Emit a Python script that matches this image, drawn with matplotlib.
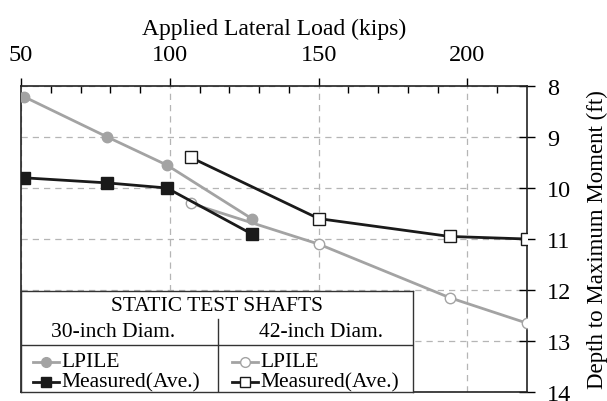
import numpy as np
import matplotlib.pyplot as plt
from matplotlib.lines import Line2D

plt.rcParams['font.family'] = ['Liberation Serif', 'DejaVu Serif']

# 30-inch shafts
load_30 = [51, 79, 99, 127.5]
lpile_30 = [8.21, 9.0, 9.55, 10.6]
meas_30 = [9.8, 9.9, 10.0, 10.9]

# 42-inch shafts
load_42 = [107, 150, 194, 220]
lpile_42 = [10.3, 11.1, 12.15, 12.65]
meas_42 = [9.4, 10.6, 10.95, 11.0]

gray = '#a3a3a3'
black = '#1a1a1a'

W, H = 607, 402
fig = plt.figure(figsize=(W / 100, H / 100), dpi=100)
ax = fig.add_axes([21 / W, (H - 393) / H, (527 - 21) / W, (393 - 87) / H])

ax.plot(load_30, lpile_30, color=gray, lw=2, marker='o', ms=7.5, mfc=gray, mec=gray, zorder=3)
ax.plot(load_30, meas_30, color=black, lw=2, marker='s', ms=8, mfc=black, mec=black, zorder=4)
ax.plot(load_42, lpile_42, color=gray, lw=2, marker='o', ms=7.5, mfc='white', mec=gray, mew=1, zorder=3)
ax.plot(load_42, meas_42, color=black, lw=2, marker='s', ms=8, mfc='white', mec=black, mew=1, zorder=4)

ax.set_xlim(50, 220)
ax.set_ylim(14, 8)
ax.xaxis.tick_top()
ax.xaxis.set_label_position('top')
ax.yaxis.tick_right()
ax.yaxis.set_label_position('right')
ax.set_xticks([50, 100, 150, 200])
ax.set_xticks(np.arange(60, 220, 10), minor=True)
ax.set_yticks(np.arange(8, 15, 1))
ax.tick_params(axis='x', which='major', direction='out', length=6, width=1, pad=9, labelsize=17.5)
ax.tick_params(axis='x', which='minor', direction='in', length=5, width=1)
ax.tick_params(axis='y', which='major', direction='inout', length=12, width=1, pad=8.5, labelsize=17.5)
ax.set_xlabel('Applied Lateral Load (kips)', labelpad=7, fontsize=17)
ax.set_ylabel('Depth to Maximum Moment (ft)', labelpad=11, fontsize=16.5)
for s in ax.spines.values():
    s.set_linewidth(1.2)
    s.set_color('#222222')
ax.grid(True, which='major', color='#b5b5b5', ls=(0, (5, 4)), lw=0.9)

# table-style legend box in the lower left
lg = fig.add_axes([21 / W, (H - 393) / H, (413 - 21) / W, (393 - 292) / H])
lg.set_xlim(0, 392)
lg.set_ylim(101, 0)
lg.set_xticks([])
lg.set_yticks([])
lg.set_facecolor('white')
for s in lg.spines.values():
    s.set_linewidth(1)
    s.set_color('#333333')
lg.set_zorder(5)
lg.axhline(54, color='#333333', lw=1)
lg.plot([197, 197], [28, 101], color='#333333', lw=1)
fs = 15.5
lg.text(196, 15, 'STATIC TEST SHAFTS', ha='center', va='center', fontsize=fs)
lg.text(92, 41, '30-inch Diam.', ha='center', va='center', fontsize=fs)
lg.text(300, 41, '42-inch Diam.', ha='center', va='center', fontsize=fs)

entries = [
    (12, 71, gray, 'o', gray, 'LPILE'),
    (12, 91, black, 's', black, 'Measured(Ave.)'),
    (211, 71, gray, 'o', 'white', 'LPILE'),
    (211, 91, black, 's', 'white', 'Measured(Ave.)'),
]
for x0, y0, c, m, fc, lab in entries:
    lg.add_line(Line2D([x0, x0 + 26], [y0, y0], color=c, lw=2))
    lg.add_line(Line2D([x0 + 13], [y0], color=c, marker=m, ms=7, mfc=fc, mec=c, mew=1, lw=0))
    lg.text(x0 + 28, y0, lab, ha='left', va='center', fontsize=fs)

fig.savefig('out.png', dpi=100)
